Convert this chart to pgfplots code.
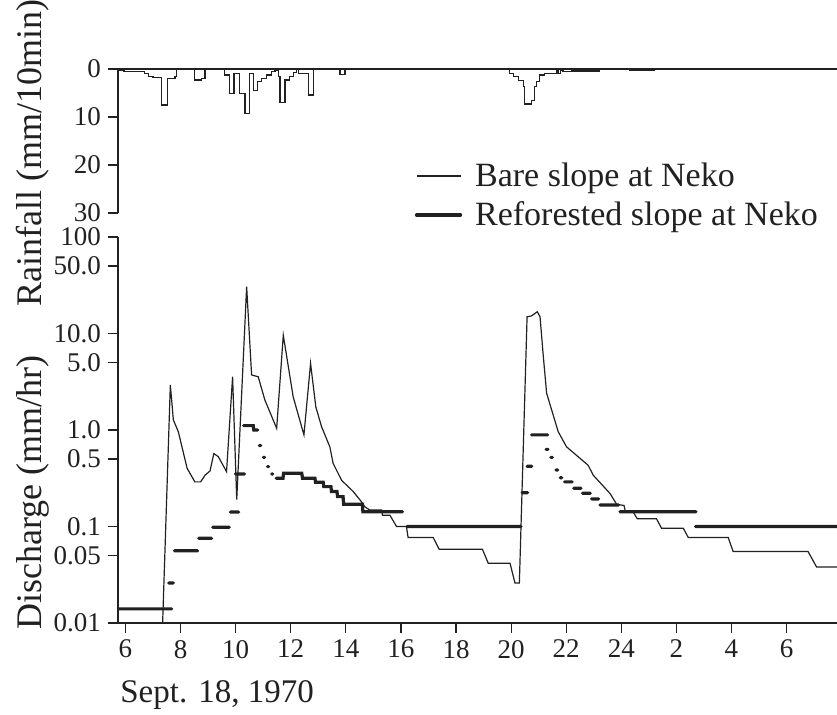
\documentclass[border=0pt]{standalone}
\usepackage{pgfplots}
\pgfplotsset{compat=1.18}
\usepackage{fontspec}
\setmainfont{Liberation Serif}
\definecolor{ink}{gray}{0.13}
\newcommand{\ticksize}{\fontsize{13.5}{16}\selectfont}
\begin{document}
\begin{tikzpicture}
\path[use as bounding box] (0pt,0pt) rectangle (418.5pt,357.5pt);
\pgfplotsset{
  common/.style={
    anchor=south west, scale only axis, width=359.5pt,
    xmin=5.73, xmax=31.83,
    font=\ticksize,
    tick align=outside, major tick length=5pt,
    tick style={ink, line width=0.6pt},
    axis line style={ink, line width=0.6pt},
    /pgf/number format/assume math mode=true,
    tick label style={font=\ticksize, text=ink},
  }
}
% ---------- rainfall (top) ----------
\begin{axis}[common,
  at={(59pt,251pt)}, height=72pt,
  ymin=0, ymax=30, y dir=reverse,
  axis x line*=middle, axis y line*=left,
  hide obscured y ticks=false,
  xtick=\empty, ytick={0,10,20,30},
  yticklabels={0,10,20,30},
]
\addplot[const plot, ink, line width=0.6pt] coordinates {
(5.73,0.2)(5.95,0.5)(6.05,0.6)(6.70,0.9)(6.85,1.5)(7.00,1.8)(7.31,7.5)(7.52,1.9)(7.80,1.6)(7.86,0)
(8.52,2.3)(8.77,2.0)(8.89,0)
(9.61,1.25)(9.79,5.1)(9.94,0.9)(10.13,5.1)(10.34,9.2)(10.49,0.9)(10.64,4.4)(10.79,2.6)(10.95,1.9)(11.13,1.25)(11.31,0.55)(11.43,0)
(11.49,0.3)(11.55,1.5)(11.61,7.0)(11.79,2.3)(11.95,1.6)(12.10,0.8)(12.22,0)
(12.27,0.9)(12.64,5.4)(12.82,0)
(13.79,1.2)(13.97,0)
(19.93,0.9)(20.10,1.6)(20.26,2.4)(20.44,3.7)(20.50,7.3)(20.74,6.5)(20.85,3.7)(20.93,2.6)(21.04,1.25)(21.22,0.9)(21.64,0.3)(21.70,0.9)(21.78,0.3)(21.88,0.6)(22.18,0.4)(23.20,0)
(24.30,0.3)(25.20,0)
(31.83,0)
};
\end{axis}
% ---------- discharge (bottom) ----------
\begin{axis}[common,
  at={(59pt,46pt)}, height=193pt,
  ymode=log, ymin=0.01, ymax=100,
  axis lines*=left,
  xtick={6,8,...,30},
  xticklabels={6,8,10,12,14,16,18,20,22,24,2,4,6},
  ytick={0.01,0.05,0.1,0.5,1,5,10,50,100},
  yticklabels={0.01,0.05,0.1,0.5,1.0,5.0,10.0,50.0,100},
  yminorticks=false,
  unbounded coords=jump,
  legend cell align=left,
  legend image code/.code={\draw[#1] (0pt,1pt) -- (22pt,1pt);},
  legend style={draw=none, fill=none, at={(0.413,1.194)}, anchor=north west,
    inner sep=0pt, outer sep=0pt, font=\fontsize{17}{20}\selectfont, text=ink,
    row sep=3.5pt, nodes={inner sep=0pt, text height=12pt, text depth=4pt},
    /tikz/every odd column/.append style={column sep=6.5pt}},
]
\addplot[ink, line width=0.6pt] coordinates {
(7.35,0.01)(7.63,2.93)(7.74,1.27)(7.92,0.96)(8.24,0.40)(8.52,0.29)(8.73,0.29)(8.89,0.34)(9.07,0.376)
(9.21,0.57)(9.37,0.53)(9.67,0.37)(9.89,3.56)(10.04,0.19)(10.40,30.5)(10.58,3.72)(10.82,3.56)
(11.06,2.05)(11.49,1.04)(11.73,9.6)(12.09,2.2)(12.48,0.89)(12.72,4.9)(12.91,1.74)(13.12,1.08)
(13.42,0.67)(13.54,0.45)(13.85,0.30)(14.27,0.23)(14.57,0.18)(14.69,0.16)(14.87,0.148)(15.30,0.148)
(15.33,0.131)(15.60,0.131)(15.84,0.1)(16.20,0.1)(16.26,0.077)(17.17,0.077)(17.39,0.058)(18.96,0.058)
(19.17,0.0416)(19.96,0.0416)(20.14,0.026)(20.30,0.026)(20.58,14.9)(20.74,15.2)(20.95,16.8)(21.05,14.9)
(21.17,5.75)(21.29,2.4)(21.71,0.96)(22.01,0.67)(22.80,0.43)(22.98,0.34)(23.59,0.22)(23.83,0.17)
(24.10,0.165)(24.15,0.142)(24.43,0.142)(24.58,0.12)(25.28,0.12)(25.46,0.096)(26.25,0.096)
(26.43,0.077)(27.88,0.077)(28.06,0.055)(30.78,0.055)(31.09,0.038)(31.83,0.038)
};
\addlegendentry{Bare slope at Neko}
\addplot[ink, line width=1.6pt, line cap=round] coordinates {
(5.73,0.014)(7.68,0.014)(7.7,nan)
(7.57,0.026)(7.74,0.026)(7.77,nan)
(7.78,0.056)(8.62,0.056)(8.65,nan)
(8.66,0.0755)(9.13,0.0755)(9.16,nan)
(9.17,0.098)(9.77,0.098)(9.80,nan)
(9.81,0.141)(10.11,0.141)(10.14,nan)
(9.99,0.35)(10.32,0.35)(10.35,nan)
(10.29,1.11)(10.64,1.11)(10.66,1.0)(10.80,1.0)(10.83,nan)
(10.86,0.69)(10.91,0.69)(10.94,nan)
(11.01,0.52)(11.05,0.52)(11.08,nan)
(11.16,0.417)(11.20,0.417)(11.23,nan)
(11.31,0.35)(11.35,0.35)(11.38,nan)
(11.47,0.316)(11.72,0.316)(11.74,0.356)(12.40,0.356)(12.43,0.316)(12.88,0.316)(12.90,0.287)(13.18,0.287)
(13.20,0.259)(13.46,0.259)(13.48,0.23)(13.68,0.23)(13.70,0.204)(13.90,0.204)(13.92,0.17)(14.60,0.17)
(14.62,0.142)(16.06,0.142)(16.10,nan)
(16.22,0.1)(20.36,0.1)(20.39,nan)
(20.40,0.224)(20.60,0.224)(20.63,nan)
(20.58,0.42)(20.75,0.42)(20.78,nan)
(20.74,0.89)(21.33,0.89)(21.36,nan)
(21.27,0.63)(21.34,0.63)(21.37,nan)
(21.44,0.52)(21.50,0.52)(21.54,nan)
(21.63,0.385)(21.69,0.385)(21.73,nan)
(21.78,0.32)(21.84,0.32)(21.87,nan)
(21.94,0.29)(22.22,0.29)(22.245,nan)
(22.27,0.249)(22.54,0.249)(22.565,nan)
(22.59,0.221)(22.87,0.221)(22.895,nan)
(22.92,0.193)(23.18,0.193)(23.205,nan)
(23.23,0.167)(23.90,0.167)(23.925,nan)
(23.95,0.142)(26.71,0.142)(26.735,nan)
(26.69,0.1)(31.83,0.1)
};
\addlegendentry{Reforested slope at Neko}
\end{axis}
\node[rotate=90, anchor=base west, font=\fontsize{18}{20}\selectfont, text=ink, inner sep=0pt] at (21pt,42.5pt) {Discharge (mm/hr)};
\node[rotate=90, anchor=base west, font=\fontsize{18}{20}\selectfont, text=ink, inner sep=0pt] at (21pt,204pt) {Rainfall (mm/10min)};
\node[anchor=base west, font=\fontsize{16.5}{18}\selectfont, text=ink, inner sep=0pt] at (60pt,6pt) {Sept. 18, 1970};
\end{tikzpicture}
\end{document}
